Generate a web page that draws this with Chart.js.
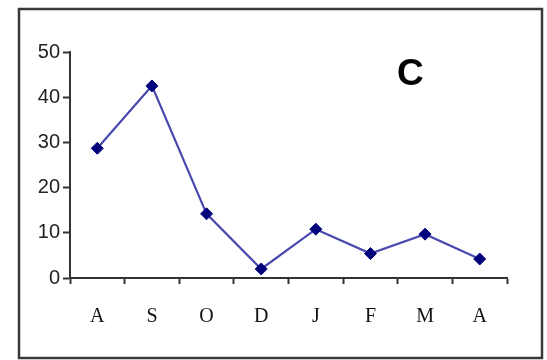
<!DOCTYPE html>
<html>
<head>
<meta charset="utf-8">
<script src="https://cdn.jsdelivr.net/npm/chart.js@4"></script>
<style>
  html, body { margin: 0; padding: 0; background: #fff; }
  #wrap { position: relative; width: 547px; height: 360px; }
</style>
</head>
<body>
<div id="wrap"><canvas id="chart" width="547" height="360"></canvas></div>
<script>
// Months (Aug .. Apr)
const months = ['A', 'S', 'O', 'D', 'J', 'F', 'M', 'A'];
const values = [28.7, 42.5, 14.2, 2.0, 10.8, 5.4, 9.7, 4.2];
const yTicks = [0, 10, 20, 30, 40, 50];
const panelLabel = 'C';

// Outer frame and the panel letter
const framePlugin = {
    id: 'frame',
    afterDraw(chart) {
        const ctx = chart.ctx;
        ctx.save();
        ctx.strokeStyle = '#3a3a3a';
        ctx.lineWidth = 2.5;
        ctx.strokeRect(19, 9, 523, 349);
        ctx.fillStyle = '#000';
        ctx.font = 'bold 37px "Liberation Sans", Arial, sans-serif';
        ctx.textAlign = 'left';
        ctx.textBaseline = 'alphabetic';
        ctx.fillText(panelLabel, 397, 85);
        ctx.restore();
    }
};

const ctx = document.getElementById('chart').getContext('2d');
new Chart(ctx, {
    type: 'line',
    data: {
        labels: months,
        datasets: [{
            data: values,
            borderColor: '#4848ae',
            borderWidth: 2.2,
            tension: 0,
            fill: false,
            pointStyle: 'rectRot',
            pointRadius: 6,
            pointBackgroundColor: '#00007a',
            pointBorderColor: '#00007a',
            pointBorderWidth: 1
        }]
    },
    options: {
        responsive: false,
        animation: false,
        layout: { padding: { top: 52, right: 40, left: 2, bottom: 0 } },
        plugins: {
            legend: { display: false },
            tooltip: { enabled: false }
        },
        scales: {
            x: {
                offset: true,
                grid: {
                    offset: true,
                    drawOnChartArea: false,
                    drawTicks: true,
                    tickLength: 6,
                    tickWidth: 2,
                    tickColor: '#333'
                },
                border: { display: true, color: '#333', width: 2 },
                ticks: {
                    color: '#111',
                    padding: 21,
                    maxRotation: 0,
                    font: { family: '"Liberation Serif", "Times New Roman", serif', size: 20 }
                },
                afterFit(scale) { scale.height = 82; }
            },
            y: {
                min: 0,
                max: 50,
                afterBuildTicks(scale) {
                    scale.ticks = yTicks.map(v => ({ value: v }));
                },
                grid: {
                    drawOnChartArea: false,
                    drawTicks: true,
                    tickLength: 7,
                    tickWidth: 2,
                    tickColor: '#333'
                },
                border: { display: true, color: '#333', width: 2 },
                ticks: {
                    color: '#222',
                    padding: 3,
                    font: { family: '"Liberation Sans", Arial, sans-serif', size: 20 }
                },
                afterFit(scale) { scale.width = 68; }
            }
        }
    },
    plugins: [framePlugin]
});
</script>
</body>
</html>
